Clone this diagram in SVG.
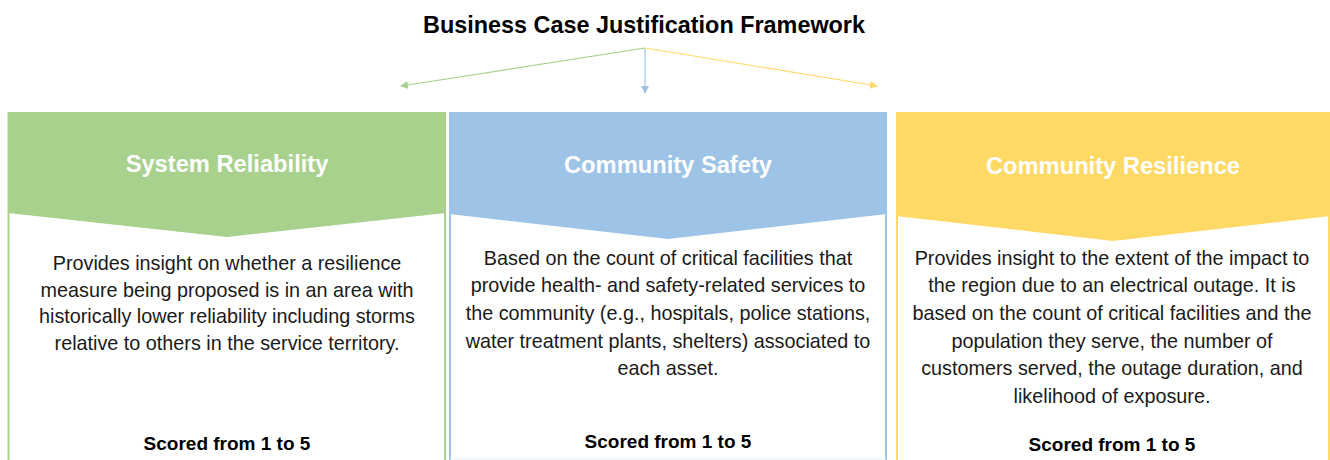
<svg xmlns="http://www.w3.org/2000/svg" width="1330" height="460" viewBox="0 0 1330 460">
<style>
.title{font-family:"Liberation Sans",Arial,sans-serif;font-weight:bold;font-size:23.4px;fill:#000;text-anchor:middle}
.head{font-family:"Liberation Sans",Arial,sans-serif;font-weight:bold;font-size:23.7px;fill:#fff;text-anchor:middle}
.body{font-family:"Liberation Sans",Arial,sans-serif;font-size:19.8px;fill:#1a1a1a;text-anchor:middle}
.score{font-family:"Liberation Sans",Arial,sans-serif;font-weight:bold;font-size:19px;fill:#000;text-anchor:middle}
.g{fill:#A9D18E}.b{fill:#9DC3E6}.y{fill:#FFD966}
</style>
<defs>
<marker id="mg" markerWidth="8" markerHeight="8" refX="7" refY="4" orient="auto" markerUnits="userSpaceOnUse"><path d="M0,0 L8,4 L0,8 z" fill="#A9D18E"/></marker>
<marker id="mb" markerWidth="8" markerHeight="8" refX="7" refY="4" orient="auto" markerUnits="userSpaceOnUse"><path d="M0,0 L8,4 L0,8 z" fill="#9DC3E6"/></marker>
<marker id="my" markerWidth="8" markerHeight="8" refX="7" refY="4" orient="auto" markerUnits="userSpaceOnUse"><path d="M0,0 L8,4 L0,8 z" fill="#FFD966"/></marker>
</defs>
<rect width="1330" height="460" fill="#fff"/>
<text class="title" x="644" y="33">Business Case Justification Framework</text>
<g id="connectors" fill="none" stroke-width="1.2">
<line x1="645" y1="48" x2="401" y2="86" stroke="#A9D18E" marker-end="url(#mg)"/>
<line x1="645" y1="48" x2="645" y2="93" stroke="#9DC3E6" marker-end="url(#mb)"/>
<line x1="645" y1="48" x2="877" y2="86" stroke="#FFD966" marker-end="url(#my)"/>
</g>
<g id="system-reliability">
<path d="M8.5,112 V460 M445,112 V460" stroke="#A9D18E" stroke-width="2" fill="none"/>
<polygon class="g" points="8,112 446,112 446,213 227,237 8,213"/>
<text class="head" x="227" y="172">System Reliability</text>
<text class="body" x="227" y="270">Provides insight on whether a resilience</text>
<text class="body" x="227" y="297">measure being proposed is in an area with</text>
<text class="body" x="227" y="323">historically lower reliability including storms</text>
<text class="body" x="227" y="350">relative to others in the service territory.</text>
<text class="score" x="227" y="450">Scored from 1 to 5</text>
</g>
<g id="community-safety">
<path d="M450,112 V460 M886,112 V460" stroke="#9DC3E6" stroke-width="2" fill="none"/>
<line x1="450" y1="459" x2="886" y2="459" stroke="#E6EDF4" stroke-width="1"/>
<polygon class="b" points="449,112 887,112 887,214 668,239 449,214"/>
<text class="head" x="668" y="173">Community Safety</text>
<text class="body" x="668" y="265">Based on the count of critical facilities that</text>
<text class="body" x="668" y="292">provide health- and safety-related services to</text>
<text class="body" x="668" y="320">the community (e.g., hospitals, police stations,</text>
<text class="body" x="668" y="348">water treatment plants, shelters) associated to</text>
<text class="body" x="668" y="375">each asset.</text>
<text class="score" x="668" y="448">Scored from 1 to 5</text>
</g>
<g id="community-resilience">
<path d="M897,112 V460 M1329,112 V460" stroke="#FFD966" stroke-width="2" fill="none"/>
<polygon class="y" points="896,112 1330,112 1330,216 1113,241 896,216"/>
<text class="head" x="1113" y="174">Community Resilience</text>
<text class="body" x="1112" y="265">Provides insight to the extent of the impact to</text>
<text class="body" x="1112" y="292">the region due to an electrical outage. It is</text>
<text class="body" x="1112" y="320">based on the count of critical facilities and the</text>
<text class="body" x="1112" y="348">population they serve, the number of</text>
<text class="body" x="1112" y="375">customers served, the outage duration, and</text>
<text class="body" x="1112" y="403">likelihood of exposure.</text>
<text class="score" x="1112" y="451">Scored from 1 to 5</text>
</g>
</svg>
